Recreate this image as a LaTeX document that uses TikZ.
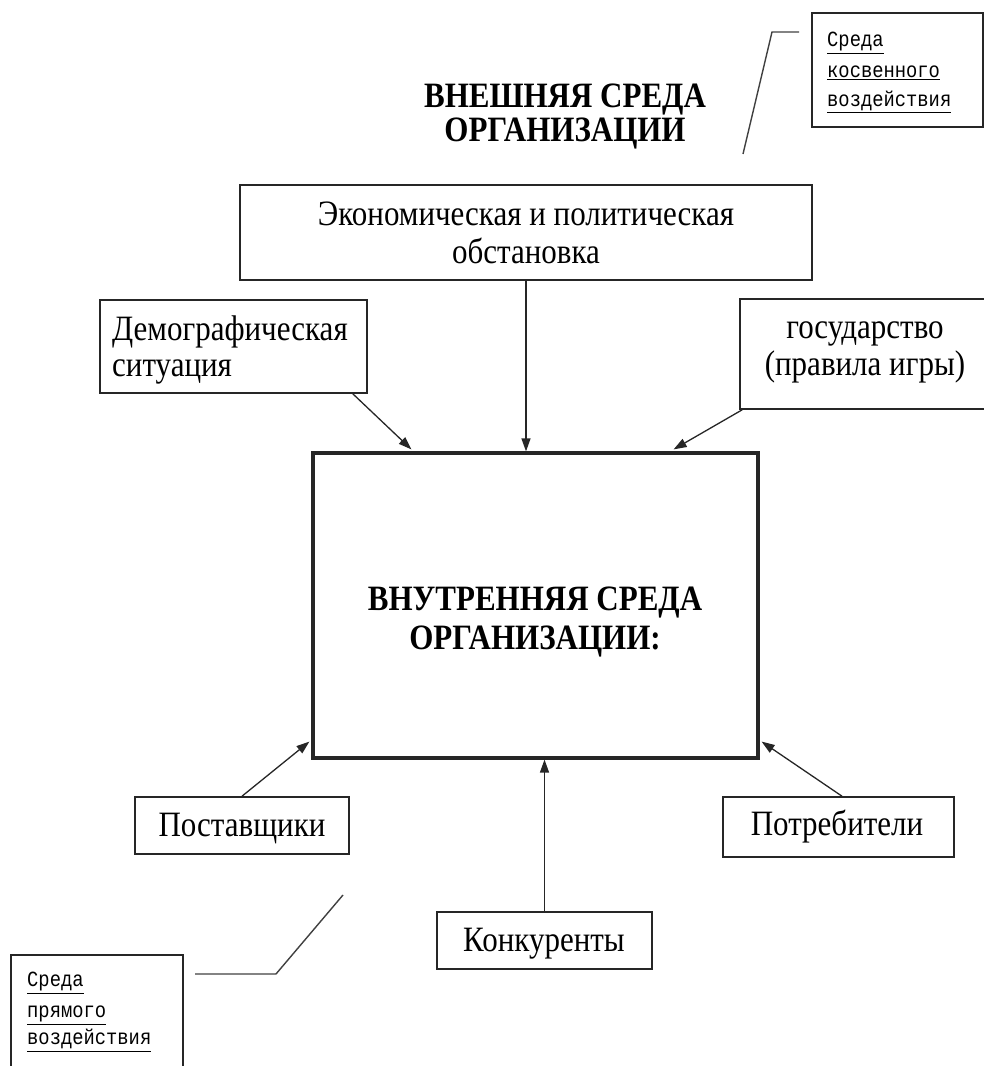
\documentclass[tikz,border=0pt]{standalone}
\usepackage{fontspec}
\setmainfont{Liberation Serif}
\newfontfamily\monofnt{Liberation Mono}
\usetikzlibrary{arrows.meta,calc}
\newcommand{\vs}[1]{\scalebox{1}[1.15]{#1}}
\begin{document}
\begin{tikzpicture}[x=1pt,y=1pt,
  box/.style={draw=black!85, line width=1.6pt, rectangle, inner sep=0pt},
  mainbox/.style={draw=black!85, line width=3.2pt, rectangle, inner sep=0pt},
  txt/.style={font=\fontsize{31}{36}\selectfont, inner sep=0pt, anchor=base},
  txtl/.style={font=\fontsize{31}{36}\selectfont, inner sep=0pt, anchor=base west},
  btxt/.style={font=\bfseries\fontsize{31}{36}\selectfont, inner sep=0pt, anchor=base},
  note/.style={font=\monofnt\fontsize{18.8}{30}\selectfont, inner sep=0pt, anchor=base west},
  arr/.style={draw=black!85, line width=1.3pt, -{Triangle[length=13pt,width=9pt]}},
  lead/.style={draw=black!75, line width=1.4pt}
]
\useasboundingbox (0,0) rectangle (984,1066);
\clip (0,0) rectangle (984,1066);

% title
\node[btxt] (t1) at (565,958) {\vs{ВНЕШНЯЯ СРЕДА}};
\node[btxt] (t2) at (565,924) {\vs{ОРГАНИЗАЦИИ}};

% boxes
\node[box, minimum width=572pt, minimum height=95pt] (econ) at (526,833.5) {};
\node[txt] (econ1) at (526,840) {\vs{Экономическая и политическая}};
\node[txt] (econ2) at (526,802) {\vs{обстановка}};

\node[box, minimum width=267pt, minimum height=93pt] (demo) at (233.5,719.5) {};
\node[txtl] (demo1) at (112,725) {\vs{Демографическая}};
\node[txtl] (demo2) at (112,689) {\vs{ситуация}};

\node[box, minimum width=250pt, minimum height=110pt] (gos) at (865,712) {};
\node[txt] (gos1) at (865,727) {\vs{государство}};
\node[txt] (gos2) at (865,690) {\vs{(правила игры)}};

\node[mainbox, minimum width=445pt, minimum height=305pt] (main) at (535.5,460.5) {};
\node[btxt] (main1) at (535,455) {\vs{ВНУТРЕННЯЯ СРЕДА}};
\node[btxt] (main2) at (535,416) {\vs{ОРГАНИЗАЦИИ:}};

\node[box, minimum width=214pt, minimum height=57pt] (post) at (242,240.5) {};
\node[txt] (post1) at (242,229) {\vs{Поставщики}};

\node[box, minimum width=231pt, minimum height=60pt] (potr) at (838.5,239) {};
\node[txt] (potr1) at (837,230) {\vs{Потребители}};

\node[box, minimum width=215pt, minimum height=57pt] (konk) at (544.5,125.5) {};
\node[txt] (konk1) at (544,114) {\vs{Конкуренты}};

% callouts
\node[box, minimum width=171pt, minimum height=114pt] (ctop) at (897.5,996) {};
\node[note] (ctop1) at (827,1019) {\underline{\vs{Среда}}};
\node[note] (ctop2) at (827,988) {\underline{\vs{косвенного}}};
\node[note] (ctop3) at (827,959) {\underline{\vs{воздействия}}};

\node[box, minimum width=172pt, minimum height=125pt] (cbot) at (97,48.5) {};
\node[note] (cbot1) at (27,79) {\underline{\vs{Среда}}};
\node[note] (cbot2) at (27,48) {\underline{\vs{прямого}}};
\node[note] (cbot3) at (27,21) {\underline{\vs{воздействия}}};

% leader lines
\coordinate (lt0) at (799,1034);
\coordinate (lt1) at (772,1034);
\coordinate (lt2) at (743,912);
\draw[lead] (lt0) -- (lt1) -- (lt2);
\coordinate (lb0) at (195,92);
\coordinate (lb1) at (276,92);
\coordinate (lb2) at (343,171);
\draw[lead] (lb0) -- (lb1) -- (lb2);

% arrows
\draw[arr] ($(demo.south east)+(-15,0)$) -- ($(main.north west)+(100,2)$);
\draw[arr] (econ.south) -- (econ.south |- main.north);
\draw[arr] ($(gos.south west)+(3,0)$) -- ($(main.north east)+(-86,2)$);
\draw[arr] (post.north) -- ($(main.south west)+(-2,18)$);
\draw[arr] ($(potr.north)+(3.5,0)$) -- ($(main.south east)+(2,18)$);
\draw[arr] (konk.north) -- (konk.north |- main.south);
\end{tikzpicture}
\end{document}
